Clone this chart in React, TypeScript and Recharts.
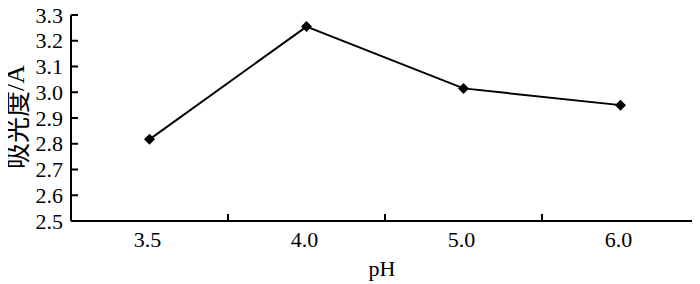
import React from 'react';
import { LineChart, Line, XAxis, YAxis } from 'recharts';

const phLabels: string[] = ['3.5', '4.0', '5.0', '6.0'];
const absorbance: number[] = [2.817, 3.255, 3.015, 2.95];
const yTicks: number[] = [2.5, 2.6, 2.7, 2.8, 2.9, 3.0, 3.1, 3.2, 3.3];
const xTicks: number[] = [0.5, 1, 1.5, 2, 2.5, 3, 3.5, 4];

const data = phLabels.map((p, i) => ({ x: i + 0.5, ph: p, a: absorbance[i] }));

const SERIF = 'Liberation Serif';
const CJK = 'Noto Sans CJK SC';

const XTick = (props: any) => {
  const { x, y, payload } = props;
  const v = payload.value as number;
  if (Number.isInteger(v)) {
    return <line x1={x} x2={x} y1={y} y2={y - 7} stroke="#000" strokeWidth={2} />;
  }
  return (
    <text x={x - 2} y={y + 26} textAnchor="middle" style={{ fontFamily: SERIF, fontSize: 22 }} fill="#000">
      {phLabels[Math.floor(v)]}
    </text>
  );
};

const YTick = (props: any) => {
  const { x, y, payload } = props;
  const v = payload.value as number;
  return (
    <g>
      <line x1={x} x2={x + 7} y1={y} y2={y} stroke="#000" strokeWidth={2} />
      <text x={x - 8} y={y + 7.5} textAnchor="end" style={{ fontFamily: SERIF, fontSize: 22 }} fill="#000">
        {v.toFixed(1)}
      </text>
    </g>
  );
};

const YLabel = (props: any) => {
  const vb = props.viewBox || {};
  const cx = (vb.x || 0) + 7;
  const cy = (vb.y || 0) + (vb.height || 0) / 2 - 1;
  return (
    <text
      x={cx}
      y={cy}
      textAnchor="middle"
      dominantBaseline="central"
      transform={`rotate(-90, ${cx}, ${cy})`}
      fill="#000"
    >
      <tspan style={{ fontFamily: CJK, fontSize: 26 }}>吸光度</tspan>
      <tspan style={{ fontFamily: SERIF, fontSize: 26 }}>/A</tspan>
    </text>
  );
};

const XLabel = (props: any) => {
  const vb = props.viewBox || {};
  const cx = (vb.x || 0) + (vb.width || 0) / 2 - 3;
  const cy = (vb.y || 0) + 55;
  return (
    <text x={cx} y={cy} textAnchor="middle" style={{ fontFamily: SERIF, fontSize: 22 }} fill="#000">
      pH
    </text>
  );
};

const Diamond = (props: any) => {
  const { cx, cy } = props;
  if (cx == null || cy == null) return null;
  const r = 5.5;
  return (
    <polygon
      points={`${cx},${cy - r} ${cx + r},${cy} ${cx},${cy + r} ${cx - r},${cy}`}
      fill="#000"
      stroke="none"
    />
  );
};

export default function App() {
  return (
    <div style={{ width: 692, height: 276 }}>
      <LineChart width={692} height={276} data={data} margin={{ top: 7, right: 1, bottom: 0, left: 0 }}>
        <XAxis
          dataKey="x"
          type="number"
          domain={[0, 4]}
          ticks={xTicks}
          interval={0}
          height={63}
          tickLine={false}
          tickSize={0}
          tickMargin={0}
          axisLine={{ stroke: '#000', strokeWidth: 2 }}
          tick={<XTick />}
          label={<XLabel />}
        />
        <YAxis
          type="number"
          domain={[2.5, 3.3]}
          ticks={yTicks}
          interval={0}
          width={63}
          tickLine={false}
          tickSize={0}
          tickMargin={0}
          axisLine={{ stroke: '#000', strokeWidth: 2 }}
          tick={<YTick />}
          label={<YLabel />}
        />
        <Line
          type="linear"
          dataKey="a"
          stroke="#000"
          strokeWidth={2}
          dot={<Diamond />}
          activeDot={false}
          isAnimationActive={false}
        />
      </LineChart>
    </div>
  );
}
